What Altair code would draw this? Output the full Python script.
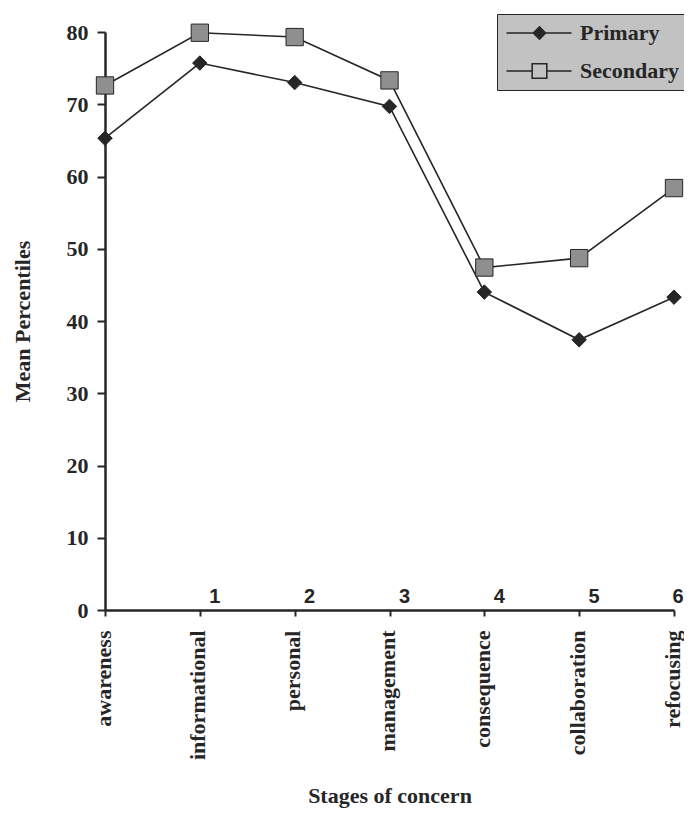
import altair as alt
import pandas as pd

stages = ["awareness", "informational", "personal", "management",
          "consequence", "collaboration", "refocusing"]
primary = [65.3, 75.7, 73.0, 69.7, 44.0, 37.4, 43.3]
secondary = [72.6, 79.9, 79.3, 73.3, 47.4, 48.7, 58.4]
series_names = ["Primary", "Secondary"]
stage_numbers = ["1", "2", "3", "4", "5", "6"]
number_stages = stages[1:]
y_ticks = [0, 10, 20, 30, 40, 50, 60, 70, 80]

rows = []
for s, vals in zip(series_names, [primary, secondary]):
    for st, v in zip(stages, vals):
        rows.append({"stage": st, "value": v, "series": s})
df = pd.DataFrame(rows)

num_df = pd.DataFrame({"stage": number_stages, "num": stage_numbers,
                       "value": [1.8] * len(stage_numbers)})

DARK = "#262626"
SERIF = "Liberation Serif"

x_enc = alt.X("stage:N", sort=stages, scale=alt.Scale(type="point", padding=0),
              axis=alt.Axis(title="Stages of concern", labelAngle=-90,
                            labelFont=SERIF, labelFontWeight="bold", labelFontSize=22,
                            labelColor=DARK, labelPadding=14, tickSize=6, labelOffset=-2,
                            titleFont=SERIF, titleFontWeight="bold", titleFontSize=22,
                            titleColor=DARK, titlePadding=26))
y_enc = alt.Y("value:Q", scale=alt.Scale(domain=[0, 80], nice=False, zero=True),
              axis=alt.Axis(title="Mean Percentiles", values=y_ticks, grid=False,
                            labelFont=SERIF, labelFontWeight="bold", labelFontSize=22,
                            labelColor=DARK, labelPadding=9, tickSize=8,
                            titleFont=SERIF, titleFontWeight="bold", titleFontSize=22,
                            titleColor=DARK, titlePadding=32))

base = alt.Chart(df)

lines = base.mark_line(color=DARK, strokeWidth=1.6).encode(
    x=x_enc, y=y_enc, detail="series:N")

points = base.mark_point(filled=True, stroke=DARK, strokeWidth=1, opacity=1).encode(
    x=x_enc, y=y_enc,
    shape=alt.Shape("series:N", scale=alt.Scale(domain=series_names, range=["diamond", "square"]),
                    legend=None),
    fill=alt.Fill("series:N", scale=alt.Scale(domain=series_names, range=[DARK, "#8f8f8f"]),
                  legend=None),
    size=alt.Size("series:N", scale=alt.Scale(domain=series_names, range=[210, 300]), legend=None),
)

# legend glyphs: line (thin filled bar) + marker, scaled 9 px per unit
p_path = ("M-1.06,-0.08L6.17,-0.08L6.17,0.08L-1.06,0.08Z"
          "M2.61,-0.8L3.41,0L2.61,0.8L1.81,0Z")
s_path = ("M-1.06,-0.08L1.71,-0.08L1.71,0.08L-1.06,0.08Z"
          "M3.51,-0.08L6.17,-0.08L6.17,0.08L3.51,0.08Z"
          "M1.71,-0.9L3.51,-0.9L3.51,0.9L1.71,0.9Z"
          "M1.88,-0.73L1.88,0.73L3.34,0.73L3.34,-0.73Z")
leg = alt.Legend(title=None, orient="none", legendX=392, legendY=-18,
                 fillColor="#c2c2c2", strokeColor=DARK, padding=8,
                 labelFont=SERIF, labelFontWeight="bold", labelFontSize=22,
                 labelColor=DARK, symbolSize=324, labelOffset=53, rowPadding=16,
                 symbolFillColor=DARK, symbolStrokeColor="transparent",
                 symbolStrokeWidth=0, symbolOpacity=1)

legend_layer = base.mark_point(filled=True, opacity=0, color=DARK).encode(
    x=x_enc, y=y_enc,
    shape=alt.Shape("series:N", scale=alt.Scale(domain=series_names, range=[p_path, s_path]),
                    legend=leg),
)

num_style = dict(font="Liberation Sans", fontWeight="bold", fontSize=20,
                 color=DARK, baseline="middle")
numbers = alt.Chart(num_df.iloc[:-1]).mark_text(dx=15, **num_style).encode(
    x=alt.X("stage:N", sort=stages), y="value:Q", text="num:N")
last_number = alt.Chart(num_df.iloc[-1:]).mark_text(dx=4, **num_style).encode(
    x=alt.X("stage:N", sort=stages), y="value:Q", text="num:N")

chart = alt.layer(lines, points, legend_layer, numbers, last_number).resolve_scale(
    shape="independent", fill="independent", size="independent"
).properties(
    width=569, height=578,
    autosize=alt.AutoSizeParams(type="none"),
    padding={"left": 97, "top": 24, "right": 10, "bottom": 199},
    background="white",
).configure_view(stroke=None).configure_axis(
    domainColor=DARK, domainWidth=2.5, tickColor=DARK, tickWidth=2)

chart.save("out.html", embed_options={"renderer": "svg", "actions": False})
